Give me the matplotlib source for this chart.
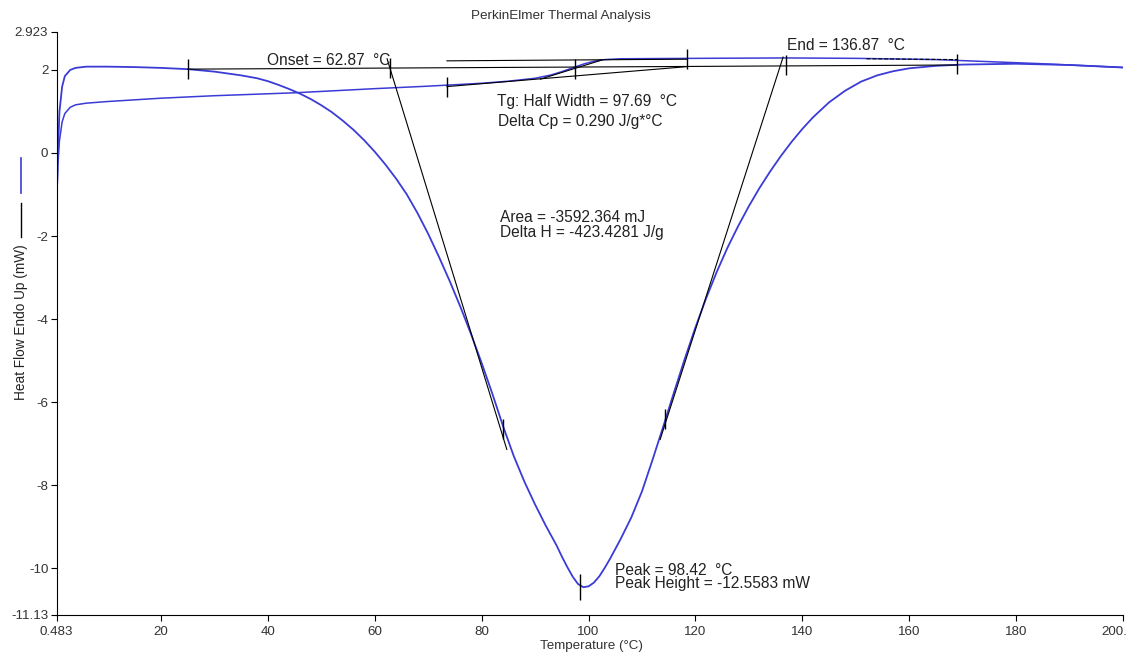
import matplotlib.pyplot as plt
import matplotlib.transforms as mtransforms
from matplotlib.lines import Line2D

# heat flow curve with the big exotherm
temp_a = [0.483, 0.7, 1.0, 1.5, 2.0, 3.0, 4.0, 6.0, 10, 15, 20, 25, 30, 35, 38, 40, 42, 44,
          46, 48, 50, 52, 54, 56, 58, 60, 62, 64, 66, 68, 70, 72, 74, 76, 78, 80, 82, 84,
          86, 88, 90, 92, 94, 95, 96, 97, 98, 99, 100, 101, 102, 103, 104, 106, 108, 110,
          112, 114, 116, 118, 120, 122, 124, 126, 128, 130, 132, 134, 136, 138, 140, 142,
          145, 148, 151, 154, 157, 160, 165, 170, 180, 190, 200]
flow_a = [-1.2, 0.0, 1.0, 1.6, 1.85, 2.0, 2.05, 2.08, 2.08, 2.07, 2.05, 2.02, 1.96, 1.87,
          1.8, 1.73, 1.64, 1.54, 1.43, 1.3, 1.15, 0.98, 0.78, 0.56, 0.31, 0.03, -0.28,
          -0.62, -1.0, -1.45, -1.95, -2.5, -3.08, -3.7, -4.36, -5.06, -5.8, -6.58, -7.3,
          -7.92, -8.47, -8.98, -9.45, -9.72, -9.97, -10.2, -10.38, -10.46, -10.44, -10.35,
          -10.2, -10.0, -9.78, -9.3, -8.78, -8.15, -7.38, -6.58, -5.76, -4.96, -4.2, -3.5,
          -2.86, -2.28, -1.76, -1.28, -0.84, -0.44, -0.07, 0.27, 0.58, 0.86, 1.22, 1.5,
          1.72, 1.87, 1.97, 2.04, 2.1, 2.13, 2.15, 2.12, 2.06]

# heat flow curve with the glass transition step
temp_b = [0.483, 0.7, 1.0, 1.5, 2, 3, 4, 6, 10, 20, 25, 30, 45, 60, 70, 80, 85, 90, 93, 95,
          97, 99, 101, 103, 106, 120, 137, 150, 165, 175, 185, 200]
flow_b = [-1.2, -0.3, 0.3, 0.75, 0.95, 1.1, 1.16, 1.2, 1.24, 1.32, 1.35, 1.38, 1.45, 1.55,
          1.61, 1.68, 1.73, 1.8, 1.88, 1.96, 2.05, 2.14, 2.21, 2.25, 2.27, 2.28, 2.29,
          2.28, 2.25, 2.2, 2.15, 2.06]

# construction lines (pairs of end points)
construct_lines = {
    "peak baseline": ([25, 169], [2.02, 2.12]),
    "onset tangent": ([62.3, 84.7], [2.27, -7.14]),
    "end tangent": ([136.4, 113.4], [2.31, -6.9]),
    "tg lower": ([73.5, 118.4], [1.60, 2.08]),
    "tg upper": ([73.5, 118.4], [2.22, 2.26]),
    "tg tangent": ([91.0, 102.5], [1.78, 2.24]),
}
dashed_t = [152, 169]
dashed_v = [2.27, 2.25]

# vertical marker ticks
mark_t = [25, 169, 62.87, 136.87, 73.5, 97.5, 118.4, 84.0, 114.3]
mark_v = [2.02, 2.14, 2.04, 2.12, 1.6, 2.03, 2.26, -6.66, -6.41]
peak_t = [98.42]
peak_v = [-10.45]

x_ticks = [0.483, 20, 40, 60, 80, 100, 120, 140, 160, 180, 200]
x_labels = ["0.483", "20", "40", "60", "80", "100", "120", "140", "160", "180", "200."]
y_ticks = [2.923, 2, 0, -2, -4, -6, -8, -10, -11.13]
y_labels = ["2.923", "2", "0", "-2", "-4", "-6", "-8", "-10", "-11.13"]

plt.rcParams['font.family'] = ['Liberation Sans', 'DejaVu Sans']

blue = '#3b3bd6'
fig = plt.figure(figsize=(11.34, 6.61), dpi=100)
ax = fig.add_axes([0.05, 0.0696, 0.9403, 0.8825])

ax.plot(temp_a, flow_a, color=blue, lw=1.3)
ax.plot(temp_b, flow_b, color=blue, lw=1.1)
for name, (xs, ys) in construct_lines.items():
    ax.plot(xs, ys, color='black', lw=0.8)
ax.plot(dashed_t, dashed_v, color='black', lw=0.8, ls='--')
ax.plot(mark_t, mark_v, ls='none', marker='|', ms=15, mew=1.0, color='black')
ax.plot(peak_t, peak_v, ls='none', marker='|', ms=19, mew=1.0, color='black')

ax.set_xlim(0.483, 200)
ax.set_ylim(-11.13, 2.923)
ax.set_xticks(x_ticks)
ax.set_xticklabels(x_labels)
ax.set_yticks(y_ticks)
ax.set_yticklabels(y_labels)
ax.spines['top'].set_visible(False)
ax.spines['right'].set_visible(False)
ax.tick_params(axis='both', labelsize=9.6, labelcolor='#333333', length=4, width=0.8)
ax.tick_params(axis='x', pad=4)
ax.tick_params(axis='y', pad=2)
# last label sits against the figure edge, as in the original export
last = ax.get_xticklabels()[-1]
last.set_horizontalalignment('right')
last.set_transform(last.get_transform() + mtransforms.ScaledTranslation(4 / 100, 0, fig.dpi_scale_trans))

txt = dict(fontsize=11.2, color='#222222', va='baseline', ha='left')
ax.text(39.8, 2.12, "Onset = 62.87  °C", **txt)
ax.text(137.1, 2.48, "End = 136.87  °C", **txt)
ax.text(82.8, 1.13, "Tg: Half Width = 97.69  °C", **txt)
ax.text(83.0, 0.65, "Delta Cp = 0.290 J/g*°C", **txt)
ax.text(83.4, -1.66, "Area = -3592.364 mJ", **txt)
ax.text(83.4, -2.02, "Delta H = -423.4281 J/g", **txt)
ax.text(105.0, -10.17, "Peak = 98.42  °C", **txt)
ax.text(105.0, -10.48, "Peak Height = -12.5583 mW", **txt)

fig.text(561 / 1134, 1 - 16 / 661, "PerkinElmer Thermal Analysis", fontsize=9.7,
         color='#333333', ha='center', va='center')
fig.text(591 / 1134, 1 - 646 / 661, "Temperature (°C)", fontsize=9.6,
         color='#333333', ha='center', va='center')
fig.text(21 / 1134, 1 - 322 / 661, "Heat Flow Endo Up (mW)", fontsize=9.8,
         color='#222222', ha='center', va='center', rotation=90)
fig.add_artist(Line2D([21 / 1134, 21 / 1134], [1 - 158 / 661, 1 - 193 / 661],
                      color=blue, lw=1.2))
fig.add_artist(Line2D([21 / 1134, 21 / 1134], [1 - 203 / 661, 1 - 237 / 661],
                      color='black', lw=1.0))

fig.savefig("out.png", dpi=100)
